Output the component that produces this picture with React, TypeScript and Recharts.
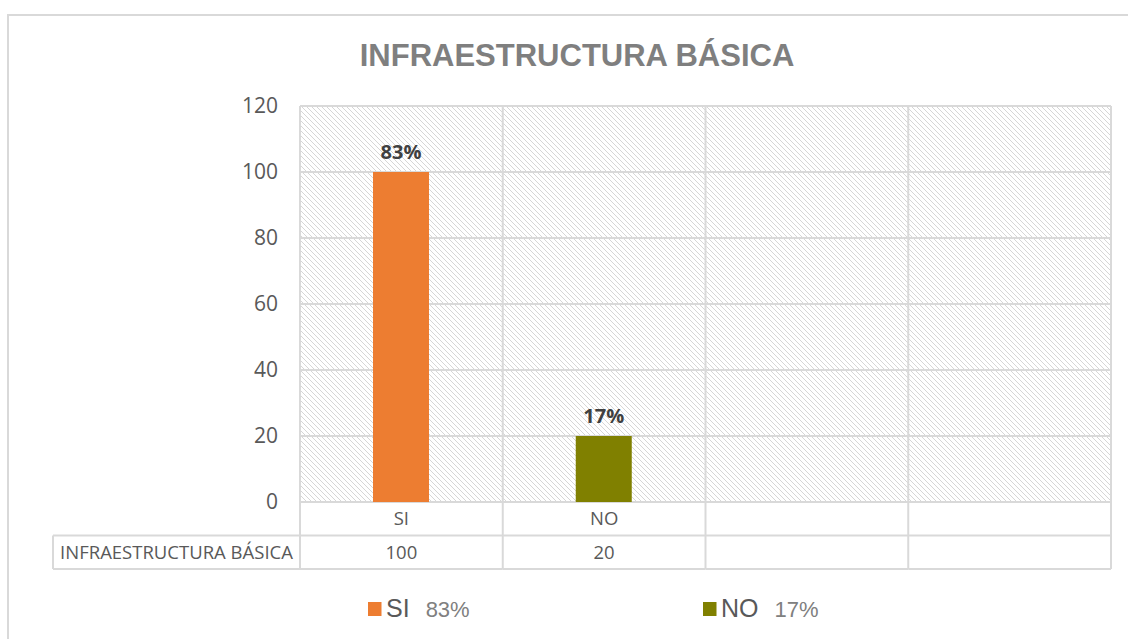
import { BarChart, Bar, XAxis, YAxis, CartesianGrid, Cell, LabelList } from "recharts";

const CATEGORIES = ["SI", "NO", "", ""];
const VALUES: (number | null)[] = [100, 20, null, null];
const PERCENT_LABELS = ["83%", "17%", "", ""];
const BAR_COLORS = ["#ED7D31", "#808000", "#ED7D31", "#808000"];
const Y_TICKS = [0, 20, 40, 60, 80, 100, 120];
const SERIES_NAME = "INFRAESTRUCTURA BÁSICA";
const TITLE = "INFRAESTRUCTURA BÁSICA";

const W = 1128;
const H = 639;
const GRID = "#d9d9d9";
const TEXT = "#595959";
const TICK_FONT = "'Open Sans', sans-serif";
const ARIAL = "'Liberation Sans', Arial, sans-serif";
const ROW_H = 33.5;
const HEADER_LEFT = 53;

const chartData = CATEGORIES.map((name, i) => ({
  name,
  value: VALUES[i],
  pct: PERCENT_LABELS[i],
}));

// x axis drawn as Excel's data table: category row + value row
function TableTick(props: any) {
  const { x, y, payload } = props;
  const index = props.index ?? payload.index ?? 0;
  const band = (typeof props.width === "number" && props.width > 0 ? props.width : 811) / CATEGORIES.length;
  const left = x - band / 2;
  const right = x + band / 2;
  const line = { stroke: GRID, strokeWidth: 2 };
  const value = VALUES[index];
  const textStyle = { fill: TEXT, fontSize: 18.5, fontFamily: TICK_FONT };
  return (
    <g>
      {index === 0 && <line x1={left} y1={y} x2={left} y2={y + ROW_H * 2} {...line} />}
      <line x1={right} y1={y} x2={right} y2={y + ROW_H * 2} {...line} />
      <line x1={left} y1={y + ROW_H} x2={right} y2={y + ROW_H} {...line} />
      <line x1={left} y1={y + ROW_H * 2} x2={right} y2={y + ROW_H * 2} {...line} />
      <text x={x} y={y + ROW_H / 2} dy="0.35em" textAnchor="middle" {...textStyle}>
        {payload.value}
      </text>
      <text x={x} y={y + ROW_H * 1.5} dy="0.35em" textAnchor="middle" {...textStyle}>
        {value ?? ""}
      </text>
      {index === 0 && (
        <g>
          <line x1={HEADER_LEFT} y1={y + ROW_H} x2={left} y2={y + ROW_H} {...line} />
          <line x1={HEADER_LEFT} y1={y + ROW_H * 2} x2={left} y2={y + ROW_H * 2} {...line} />
          <line x1={HEADER_LEFT} y1={y + ROW_H} x2={HEADER_LEFT} y2={y + ROW_H * 2} {...line} />
          <text
            x={(HEADER_LEFT + left) / 2}
            y={y + ROW_H * 1.5}
            dy="0.35em"
            textAnchor="middle"
            {...textStyle}
          >
            {SERIES_NAME}
          </text>
        </g>
      )}
    </g>
  );
}

export default function App() {
  return (
    <div
      style={{
        position: "fixed",
        left: 0,
        top: 0,
        width: W,
        height: H,
        overflow: "hidden",
        background: "#fff",
      }}
    >
      {/* chart area border */}
      <div
        style={{
          position: "absolute",
          left: 7,
          top: 14,
          width: 1300,
          height: 800,
          border: `2px solid ${GRID}`,
          boxSizing: "border-box",
        }}
      />
      <div style={{ position: "absolute", left: 0, top: 0 }}>
        <BarChart
          width={W}
          height={H}
          data={chartData}
          margin={{ top: 106, right: 17, bottom: 70, left: 240 }}
          barSize={56}
        >
          <defs>
            <pattern id="hatch" patternUnits="userSpaceOnUse" width={5} height={5}>
              <rect width={5} height={5} fill="#ffffff" />
              <path d="M-1,-1 L6,6 M-1,4 L1,6 M4,-1 L6,1" stroke="#d6d6d6" strokeWidth={1} />
            </pattern>
          </defs>
          <CartesianGrid
            stroke={GRID}
            strokeWidth={2}
            fill="url(#hatch)"
            fillOpacity={1}
            verticalCoordinatesGenerator={({ offset }: any) =>
              CATEGORIES.map((_, i) => offset.left + (i * offset.width) / CATEGORIES.length).concat(
                offset.left + offset.width
              )
            }
          />
          <XAxis
            dataKey="name"
            height={67}
            axisLine={false}
            tickLine={false}
            tickSize={0}
            tickMargin={0}
            interval={0}
            tick={<TableTick />}
          />
          <YAxis
            width={60}
            domain={[0, 120]}
            ticks={Y_TICKS}
            axisLine={false}
            tickLine={false}
            tickSize={0}
            tickMargin={22}
            tick={{ fill: TEXT, fontSize: 21, fontFamily: TICK_FONT }}
          />
          <Bar dataKey="value" isAnimationActive={false}>
            {chartData.map((_, i) => (
              <Cell key={i} fill={BAR_COLORS[i]} />
            ))}
            <LabelList
              dataKey="pct"
              position="top"
              offset={13}
              fill="#404040"
              style={{ fontSize: 20, fontWeight: 700, fontFamily: TICK_FONT }}
            />
          </Bar>
        </BarChart>
      </div>
      {/* title and legend */}
      <svg
        width={W}
        height={H}
        style={{ position: "absolute", left: 0, top: 0, pointerEvents: "none" }}
      >
        <text
          x={577}
          y={66}
          textAnchor="middle"
          fill="#7f7f7f"
          fontFamily={ARIAL}
          fontWeight={700}
          fontSize={31}
        >
          {TITLE}
        </text>
        {CATEGORIES.slice(0, 2).map((name, i) => {
          const x0 = 368 + i * 335;
          return (
            <g key={name}>
              <rect x={x0} y={602} width={13.5} height={14} fill={BAR_COLORS[i]} />
              <text x={x0 + 18} y={617} fill={TEXT} fontFamily={ARIAL} fontSize={25}>
                {name}
                <tspan dx={16} fill="#808080" fontSize={22}>
                  {PERCENT_LABELS[i]}
                </tspan>
              </text>
            </g>
          );
        })}
      </svg>
    </div>
  );
}
